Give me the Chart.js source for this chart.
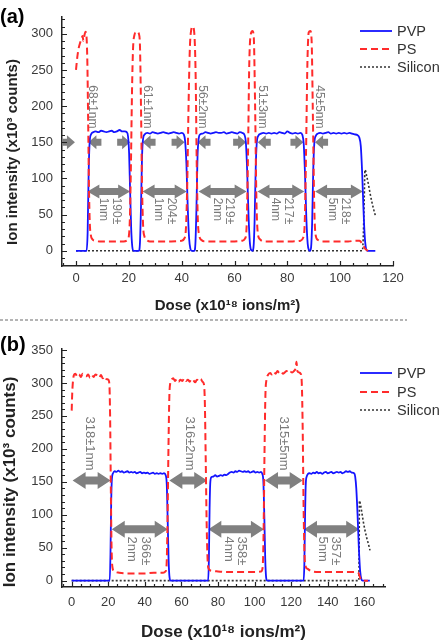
<!DOCTYPE html>
<html>
<head>
<meta charset="utf-8">
<script src="https://cdn.jsdelivr.net/npm/chart.js@4.4.1/dist/chart.umd.min.js"></script>
<style>
  html, body { margin: 0; padding: 0; background: #fff; }
  #wrap { position: relative; width: 447px; height: 643px; overflow: hidden; }
  #ca { position: absolute; left: 0; top: 0; }
  #cb { position: absolute; left: 0; top: 322px; }
  #sep { position: absolute; left: 0; top: 319px; width: 407px; height: 2px;
         background: repeating-linear-gradient(to right, #b4b4b4 0 3px, transparent 3px 5px); }
</style>
</head>
<body>
<div id="wrap">
  <canvas id="ca" width="447" height="318"></canvas>
  <div id="sep"></div>
  <canvas id="cb" width="447" height="321"></canvas>
</div>
<script>
// ---------- panel (a) ----------
const xTicksA = [0, 20, 40, 60, 80, 100, 120];
const yTicksA = [0, 50, 100, 150, 200, 250, 300];

const pvpA = [
  [0,0],[4.0,0],[4.4,25],[4.8,110],[5.2,152],[5.7,161],[6.5,164],[7.5,165],[8.5,164],[9.5,166],
  [10.5,165],[11.5,164],[12.5,165],[13.5,166],[14.5,164],[15.5,165],[16.5,167],[17.5,165],[18.5,165],
  [19.2,164],[19.7,158],[20.1,135],[20.5,80],[20.9,30],[21.3,6],[21.8,0],[23.8,0],[24.2,10],[24.6,60],
  [25.0,130],[25.4,155],[26.0,161],[27,163],[28,162],[29,164],[30,163],[31,162],[32,163],[33,164],
  [34,163],[35,162],[36,163],[37,164],[38,163],[39,162],[40,163],[40.8,161],[41.3,152],[41.8,120],
  [42.3,60],[42.8,18],[43.3,3],[43.8,0],[44.8,0],[45.2,10],[45.6,60],[46.0,130],[46.4,154],[47,161],
  [48,162],[49,164],[50,163],[51,162],[52,163],[53,164],[54,163],[55,163],[56,164],[57,162],[58,163],
  [59,164],[60,163],[61,162],[62,164],[63,163],[63.8,160],[64.3,150],[64.8,110],[65.3,50],[65.8,12],
  [66.3,1],[66.8,0],[67.2,5],[67.6,40],[68.0,110],[68.4,148],[69,159],[70,162],[71,163],[72,162],
  [73,163],[74,162],[75,163],[76,162],[77,164],[78,163],[79,162],[80,165],[81,163],[82,162],[83,163],
  [84,162],[85,163],[85.7,160],[86.2,148],[86.7,105],[87.2,45],[87.7,10],[88.2,1],[88.6,0],[89.0,5],
  [89.4,40],[89.8,110],[90.2,148],[90.8,159],[91.5,162],[92.5,163],[93.5,162],[94.5,163],[95.5,164],
  [96.5,162],[97.5,163],[98.5,162],[99.5,163],[100.5,162],[101.5,163],[102.5,162],[103.5,163],
  [104.5,162],[105.5,161],[106.5,160],[107.2,157],[107.8,145],[108.3,110],[108.8,60],[109.3,20],
  [109.8,3],[110.3,0],[113.3,0]
];
const psA = [
  [0,250],[0.5,268],[1.0,280],[1.5,287],[2.0,292],[2.5,297],[2.8,290],[3.2,298],[3.6,303],[4.0,295],
  [4.3,260],[4.6,180],[4.9,90],[5.2,40],[5.6,22],[6.2,16],[7,14],[9,13],[12,13],[15,13],[18,13],
  [19.5,15],[20.0,20],[20.4,45],[20.8,120],[21.2,220],[21.6,280],[22.1,298],[22.7,302],[23.3,303],
  [23.8,300],[24.2,285],[24.6,200],[25.0,90],[25.4,35],[25.9,20],[26.8,15],[28,13],[32,13],[36,13],
  [40,14],[41.0,17],[41.6,30],[42.1,90],[42.6,200],[43.1,280],[43.6,305],[44.2,310],[44.8,300],
  [45.3,240],[45.7,120],[46.1,45],[46.6,22],[47.5,15],[49,13],[55,13],[60,13],[63,14],[64,17],
  [64.6,35],[65.1,130],[65.6,260],[66.2,300],[66.8,304],[67.3,295],[67.8,200],[68.3,70],[68.8,25],
  [69.6,16],[71,13],[76,13],[82,13],[85,14],[86,18],[86.6,40],[87.1,140],[87.6,260],[88.1,302],
  [88.7,304],[89.2,290],[89.7,180],[90.2,60],[90.7,22],[91.6,15],[93,13],[98,13],[103,13],[106,14],
  [107.3,14],[107.9,12],[108.5,9],[109.1,5],[109.7,2],[110.5,0]
];
const siliconA = [
  [0,0],[108.4,0],[108.8,25],[109.1,70],[109.4,112],[110.0,104],[110.7,92],[111.4,78],[112.1,66],
  [112.7,57],[113.3,49]
];
// thin PS layers: arrowheads pointing in from both sides, at y = 150
const thinTipsRightA = [-0.4, 20.5, 41.1, 64.4, 86.1];
const thinTipsLeftA = [4.7, 25.2, 46.0, 68.8, 90.5];
const thinLabelsA = ["68±1nm", "61±1nm", "56±2nm", "51±3nm", "45±5nm"];
const thinLabelXA = [6.3, 26.9, 48.0, 70.6, 92.2];
// PVP layers: double arrows at y = 82
const thickFromA = [4.3, 25.2, 46.4, 68.7, 90.5];
const thickToA = [20.5, 41.9, 64.6, 86.4, 108.6];
const thickLabelsA = [["190±","1nm"], ["204±","1nm"], ["219±","2nm"], ["217±","4nm"], ["218±","5nm"]];
const thickLabelXA = [12.9, 33.7, 55.8, 77.9, 99.4];

// ---------- panel (b) ----------
const xTicksB = [0, 20, 40, 60, 80, 100, 120, 140, 160];
const yTicksB = [0, 50, 100, 150, 200, 250, 300, 350];

const pvpB = [
  [0,0],[20.8,0],[21.2,40],[21.6,120],[22.0,155],[22.6,163],[23.5,166],[24.5,165],[25.5,167],
  [26.5,165],[27.5,166],[28.5,164],[29.5,165],[30.5,166],[31.5,164],[32.5,165],[33.5,164],[34.5,165],
  [35.5,163],[36.5,164],[37.5,165],[38.5,163],[39.5,164],[40.5,163],[41.5,164],[42.5,162],[43.5,163],
  [44.5,164],[45.5,162],[46.5,163],[47.5,162],[48.5,163],[49.5,162],[50.5,163],[51.4,160],[52.0,145],
  [52.5,90],[53.0,30],[53.5,5],[54.1,0],[74.6,0],[75.0,30],[75.4,110],[75.8,150],[76.4,157],
  [77.5,158],[78.5,160],[79.5,158],[80.5,159],[81.5,160],[82.5,159],[83.5,161],[84.5,160],[85.5,162],
  [86.5,164],[87.5,165],[88.5,164],[89.5,166],[90.5,165],[91.5,167],[92.5,166],[93.5,165],[94.5,166],
  [95.5,165],[96.5,166],[97.5,164],[98.5,165],[99.5,166],[100.5,164],[101.5,165],[102.5,164],
  [103.5,165],[104.2,162],[104.8,150],[105.3,100],[105.8,35],[106.3,5],[106.9,0],[126.8,0],[127.2,25],
  [127.6,100],[128.0,148],[128.5,158],[129.2,162],[130,163],[131,162],[132,164],[133,163],[134,165],
  [135,163],[136,164],[137,162],[138,164],[139,165],[140,163],[141,164],[142,165],[143,163],[144,164],
  [145,165],[146,164],[147,165],[148,163],[149,164],[150,166],[151,165],[152,166],[153,164],[154.4,163],
  [155.0,158],[155.6,140],[156.3,100],[157.0,50],[157.7,15],[158.4,2],[159,0],[163,0]
];
const psB = [
  [0,258],[0.3,285],[0.7,303],[1.2,312],[2,314],[3,310],[4,313],[5,309],[6,314],[7,311],[8,310],
  [9,313],[10,308],[11,312],[12,309],[13,313],[14,311],[15,308],[16,312],[17,307],[18,310],[19,306],
  [20,305],[20.6,298],[21.0,250],[21.4,140],[21.8,50],[22.3,20],[23.3,14],[26,12],[30,11],[35,11],
  [40,11],[45,12],[50,12],[51.3,14],[51.9,25],[52.4,90],[52.9,200],[53.4,280],[53.9,300],[54.6,305],
  [55.5,307],[56.5,303],[57.5,306],[58.5,302],[59.5,305],[60.5,303],[61.5,307],[62.5,303],[63.5,305],
  [64.5,302],[65.5,306],[66.5,304],[67.5,301],[68.5,305],[69.5,303],[70.5,306],[71.5,302],[72.3,298],
  [72.8,270],[73.3,180],[73.8,85],[74.3,32],[74.9,18],[76.5,15],[80,14],[85,13],[90,13],[95,13],
  [100,13],[103.5,14],[104.4,20],[104.9,70],[105.4,190],[105.9,280],[106.5,305],[107.3,312],[108.5,315],
  [109.5,313],[110.5,317],[111.5,314],[112.5,318],[113.5,315],[114.5,317],[115.5,314],[116.5,316],
  [117.5,318],[118.5,315],[119.5,317],[120.5,316],[121.5,318],[122.4,322],[122.9,332],[123.4,318],
  [124.3,316],[125.2,314],[125.8,300],[126.3,230],[126.8,110],[127.3,40],[127.9,22],[129,18],[130.5,15],
  [135,13],[140,13],[145,13],[150,13],[155,13],[156.7,12],[157.4,7],[158.1,2],[158.8,0],[162,0]
];
const siliconB = [
  [0,0],[157.0,0],[157.2,60],[157.3,121],[158.0,114],[158.6,104],[159.4,90],[160.3,77],[161.2,66],
  [162.2,56],[163.1,46]
];
// PS layers: double arrows at y = 152
const psFromB = [0.5, 53.4, 105.7];
const psToB = [21.3, 74.1, 126.3];
const psLabelsB = ["318±1nm", "316±2nm", "315±5nm"];
const psLabelXB = [10.0, 64.3, 115.7];
// PVP layers: double arrows at y = 78
const pvpFromB = [21.9, 74.7, 127.0];
const pvpToB = [52.5, 105.1, 157.2];
const pvpLabelsB = [["366±","2nm"], ["358±","4nm"], ["357±","5nm"]];
const pvpLabelXB = [36.4, 89.3, 140.7];

// ---------- drawing ----------
const FONT = "'Liberation Sans', Arial, Helvetica, sans-serif";
const BLUE = '#1414ff', RED = '#ff2b2b', DARK = '#333333', GRAY = '#808080';
const toXY = arr => arr.map(p => ({ x: p[0], y: p[1] }));

function dblArrow(ctx, x1, x2, y, shaft, head, hl) {
  ctx.beginPath();
  ctx.moveTo(x1, y);
  ctx.lineTo(x1 + hl, y - head / 2);
  ctx.lineTo(x1 + hl, y - shaft / 2);
  ctx.lineTo(x2 - hl, y - shaft / 2);
  ctx.lineTo(x2 - hl, y - head / 2);
  ctx.lineTo(x2, y);
  ctx.lineTo(x2 - hl, y + head / 2);
  ctx.lineTo(x2 - hl, y + shaft / 2);
  ctx.lineTo(x1 + hl, y + shaft / 2);
  ctx.lineTo(x1 + hl, y + head / 2);
  ctx.closePath();
  ctx.fill();
}

function oneArrow(ctx, tip, y, dir, len, shaft, head, hl) {
  const b = tip - dir * hl, t = tip - dir * len;
  ctx.beginPath();
  ctx.moveTo(tip, y);
  ctx.lineTo(b, y - head / 2);
  ctx.lineTo(b, y - shaft / 2);
  ctx.lineTo(t, y - shaft / 2);
  ctx.lineTo(t, y + shaft / 2);
  ctx.lineTo(b, y + shaft / 2);
  ctx.lineTo(b, y + head / 2);
  ctx.closePath();
  ctx.fill();
}

// rotated 90deg clockwise, first line on the right
function vText(ctx, lines, x, y, size, align) {
  ctx.save();
  ctx.translate(x, y);
  ctx.rotate(Math.PI / 2);
  ctx.font = size + 'px ' + FONT;
  ctx.fillStyle = '#7a7a7a';
  ctx.textAlign = align;
  ctx.textBaseline = 'middle';
  const lh = size * 1.05;
  lines.forEach((s, i) => ctx.fillText(s, 0, (i - (lines.length - 1) / 2) * lh));
  ctx.restore();
}

function decor(p) {
  return {
    id: 'decor',
    beforeDatasetsDraw(chart) {
      const ctx = chart.ctx, sx = chart.scales.x, sy = chart.scales.y;
      const X = v => sx.getPixelForValue(v), Y = v => sy.getPixelForValue(v);
      ctx.save();
      ctx.fillStyle = GRAY;
      p.arrows(ctx, X, Y);
      ctx.restore();
    },
    afterDraw(chart) {
      const ctx = chart.ctx, sx = chart.scales.x, sy = chart.scales.y, ca = chart.chartArea;
      ctx.save();
      // inward tick marks
      ctx.strokeStyle = '#222';
      ctx.lineWidth = 1.2;
      ctx.beginPath();
      for (let v = Math.ceil(sx.min / 5) * 5; v <= sx.max + 1e-6; v += 5) {
        const px = Math.round(sx.getPixelForValue(v)) + 0.5;
        const len = v % 20 === 0 ? 5 : 3;
        ctx.moveTo(px, ca.bottom);
        ctx.lineTo(px, ca.bottom - len);
      }
      for (let v = Math.ceil(sy.min / 10) * 10; v <= sy.max + 1e-6; v += 10) {
        const py = Math.round(sy.getPixelForValue(v)) + 0.5;
        const len = v % 50 === 0 ? 5 : 3;
        ctx.moveTo(ca.left, py);
        ctx.lineTo(ca.left + len, py);
      }
      ctx.stroke();

      // y title
      ctx.save();
      ctx.translate(p.yTitleX, p.yTitleY);
      ctx.rotate(-Math.PI / 2);
      ctx.font = 'bold ' + p.titleSize + 'px ' + FONT;
      ctx.fillStyle = '#222';
      ctx.textAlign = 'center';
      ctx.textBaseline = 'middle';
      ctx.fillText('Ion intensity (x10³ counts)', 0, 0);
      ctx.restore();

      // panel letter
      ctx.font = 'bold 20px ' + FONT;
      ctx.fillStyle = '#000';
      ctx.textAlign = 'left';
      ctx.textBaseline = 'middle';
      ctx.fillText(p.letter, 0, p.letterY);

      // legend
      chart.data.datasets.forEach((ds, i) => {
        const y = p.legendY[i];
        ctx.strokeStyle = ds.borderColor;
        ctx.lineWidth = ds.borderWidth;
        ctx.setLineDash(ds.borderDash || []);
        ctx.beginPath();
        ctx.moveTo(360, y);
        ctx.lineTo(392, y);
        ctx.stroke();
        ctx.setLineDash([]);
        ctx.font = '14.5px ' + FONT;
        ctx.fillStyle = '#333';
        ctx.textAlign = 'left';
        ctx.textBaseline = 'middle';
        ctx.fillText(ds.label, 397, y + 1);
      });
      ctx.restore();
    }
  };
}

function makeChart(id, o) {
  return new Chart(document.getElementById(id), {
    type: 'line',
    data: {
      datasets: [
        { label: 'PVP', data: toXY(o.pvp), borderColor: BLUE, borderWidth: 1.8, order: 1 },
        { label: 'PS', data: toXY(o.ps), borderColor: RED, borderWidth: 2, borderDash: [7, 4], order: 0 },
        { label: 'Silicon', data: toXY(o.si), borderColor: DARK, borderWidth: 1.6, borderDash: [2, 2], order: 2 }
      ]
    },
    options: {
      responsive: false,
      animation: false,
      parsing: true,
      elements: {
        point: { radius: 0 },
        line: { cubicInterpolationMode: 'monotone', fill: false }
      },
      layout: { padding: { left: 0, right: o.padRight, top: o.padTop, bottom: 0 } },
      plugins: { legend: { display: false }, tooltip: { enabled: false } },
      scales: {
        x: {
          type: 'linear', min: o.xMin, max: o.xMax,
          afterBuildTicks: s => { s.ticks = o.xTicks.map(v => ({ value: v })); },
          afterFit: s => { s.height = o.xAxisH; },
          grid: { display: true, drawOnChartArea: false, drawTicks: false },
          border: { display: true, color: '#222', width: 1.5 },
          ticks: { font: { family: FONT, size: 13 }, color: '#3a3a3a', padding: o.xTickPad,
                   maxRotation: 0, autoSkip: false },
          title: { display: true, text: 'Dose (x10¹⁸ ions/m²)', color: '#222',
                   font: { family: FONT, size: o.titleSize, weight: 'bold' },
                   padding: { top: 0, bottom: o.xTitlePad } }
        },
        y: {
          type: 'linear', min: o.yMin, max: o.yMax,
          afterBuildTicks: s => { s.ticks = o.yTicks.map(v => ({ value: v })); },
          afterFit: s => { s.width = 62; },
          grid: { display: true, drawOnChartArea: false, drawTicks: false },
          border: { display: true, color: '#222', width: 1.5 },
          ticks: { font: { family: FONT, size: 13 }, color: '#3a3a3a', padding: 9, autoSkip: false }
        }
      }
    },
    plugins: [decor(o.decor)]
  });
}

makeChart('ca', {
  pvp: pvpA, ps: psA, si: siliconA,
  xMin: -5.3, xMax: 120, yMin: -21, yMax: 323.5,
  xTicks: xTicksA, yTicks: yTicksA,
  padRight: 54, padTop: 14, xAxisH: 52, xTickPad: 5, xTitlePad: 3, titleSize: 15,
  decor: {
    letter: '(a)', letterY: 17, yTitleX: 12.5, yTitleY: 152, titleSize: 15,
    legendY: [31, 49, 67],
    arrows(ctx, X, Y) {
      thinTipsRightA.forEach(t => oneArrow(ctx, X(t), Y(150), 1, 13, 7, 14, 8));
      thinTipsLeftA.forEach(t => oneArrow(ctx, X(t), Y(150), -1, 13, 7, 14, 8));
      thickFromA.forEach((f, i) => dblArrow(ctx, X(f), X(thickToA[i]), Y(82), 7, 14, 12));
      thinLabelsA.forEach((s, i) => vText(ctx, [s], X(thinLabelXA[i]), Y(199), 12, 'center'));
      thickLabelsA.forEach((s, i) => vText(ctx, s, X(thickLabelXA[i]), Y(73.5), 12, 'left'));
    }
  }
});

makeChart('cb', {
  pvp: pvpB, ps: psB, si: siliconB,
  xMin: -5.3, xMax: 171.3, yMin: -9.6, yMax: 351.5,
  xTicks: xTicksB, yTicks: yTicksB,
  padRight: 62, padTop: 27, xAxisH: 56, xTickPad: 8, xTitlePad: 0, titleSize: 17,
  decor: {
    letter: '(b)', letterY: 23, yTitleX: 10, yTitleY: 160, titleSize: 17,
    legendY: [51, 70, 88],
    arrows(ctx, X, Y) {
      psFromB.forEach((f, i) => dblArrow(ctx, X(f), X(psToB[i]), Y(152), 8, 17, 13));
      pvpFromB.forEach((f, i) => dblArrow(ctx, X(f), X(pvpToB[i]), Y(78), 8, 17, 13));
      psLabelsB.forEach((s, i) => vText(ctx, [s], X(psLabelXB[i]), Y(208), 13, 'center'));
      pvpLabelsB.forEach((s, i) => vText(ctx, s, X(pvpLabelXB[i]), Y(67), 13, 'left'));
    }
  }
});
</script>
</body>
</html>
